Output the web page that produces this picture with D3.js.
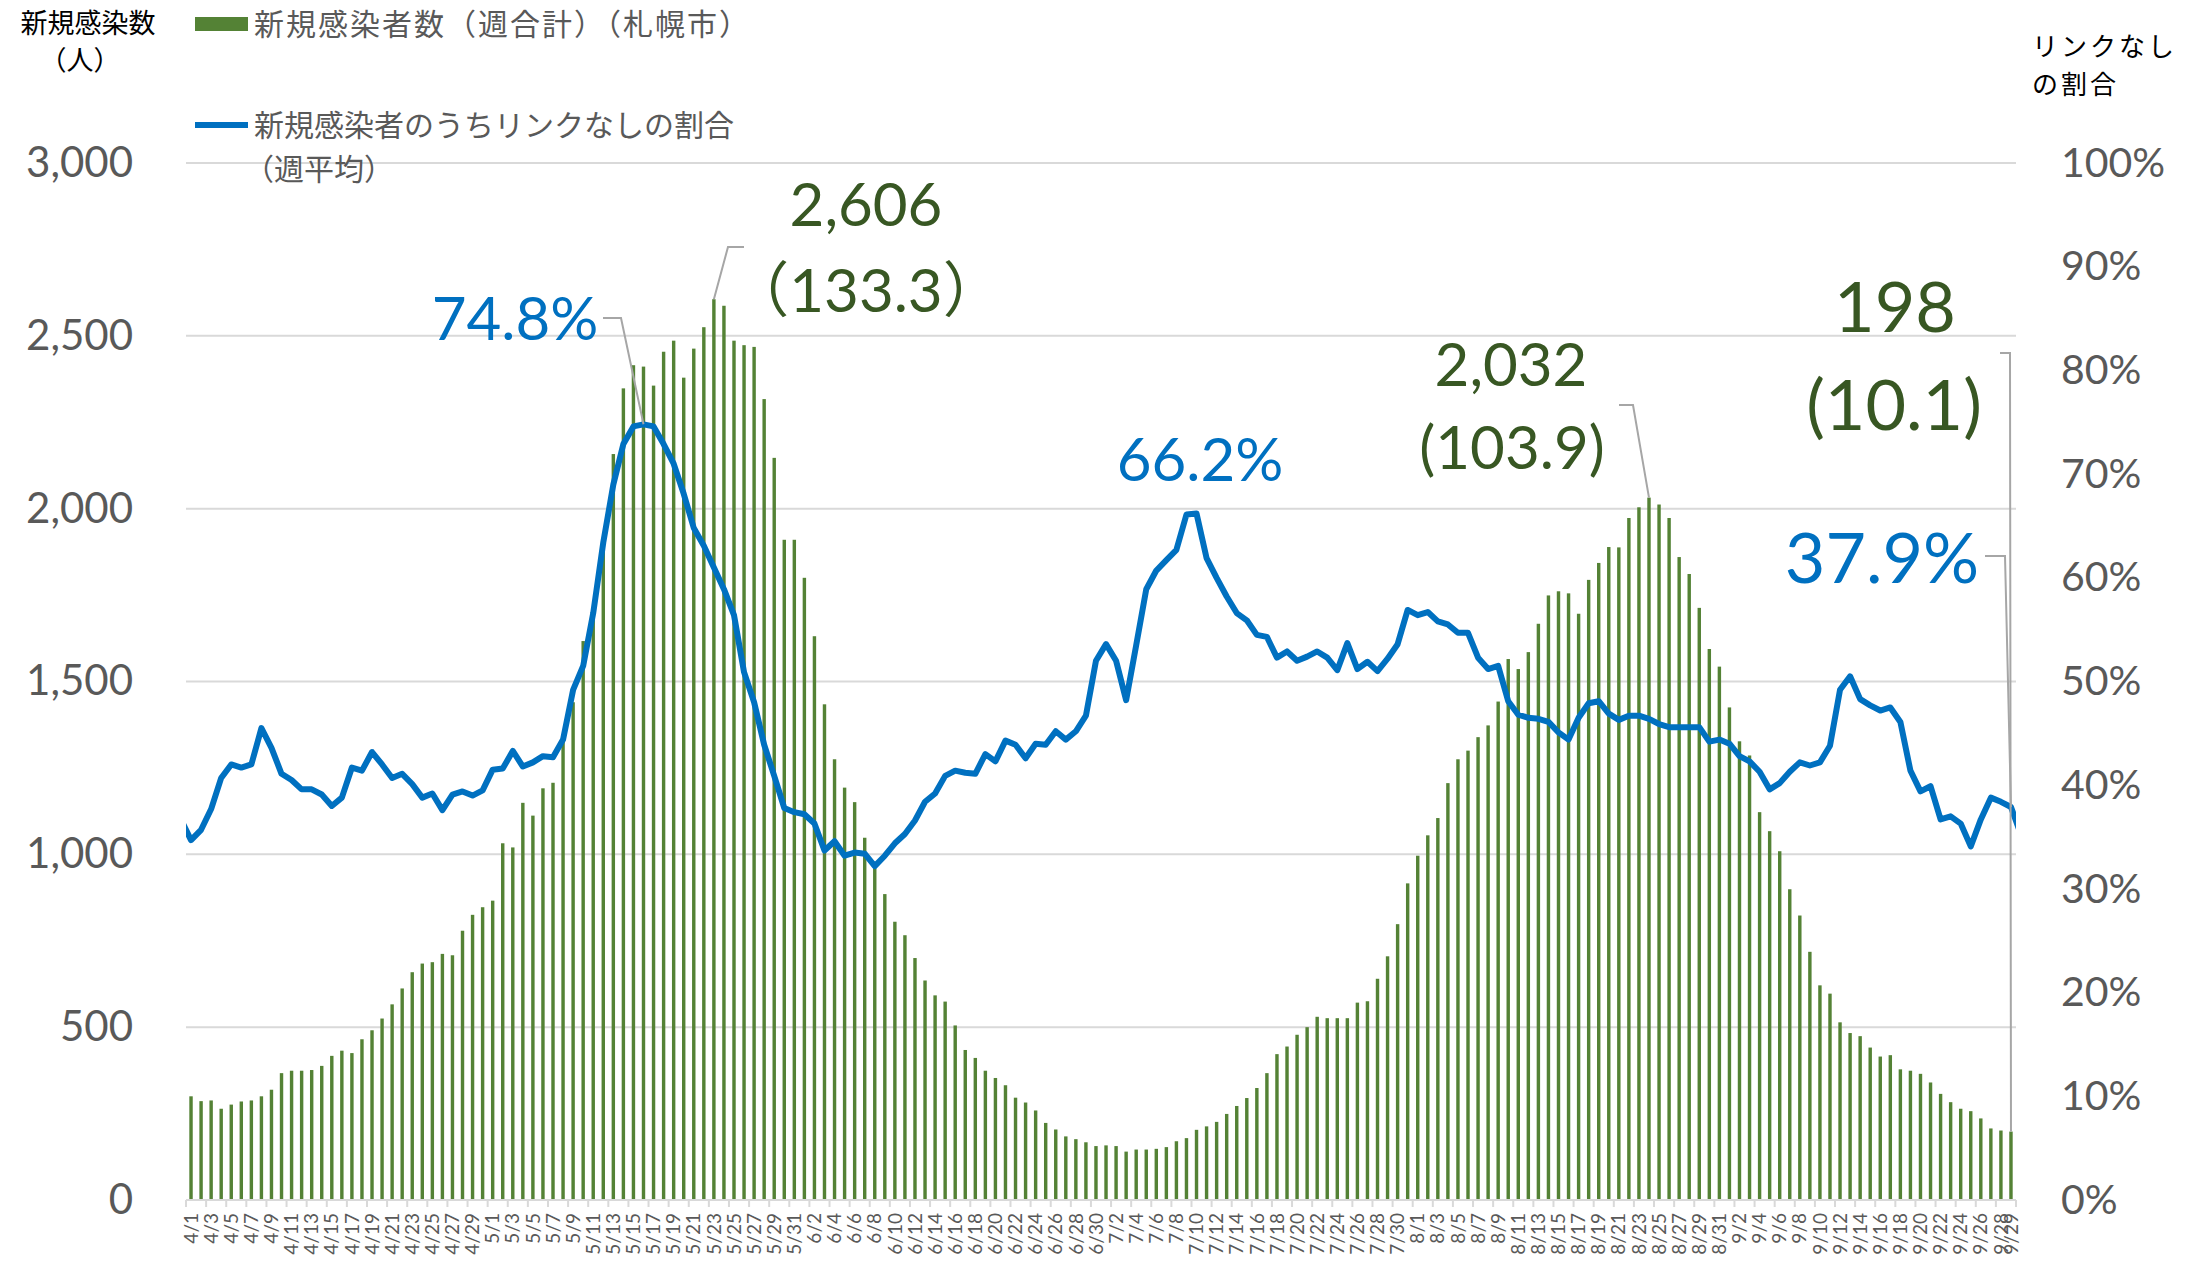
<!DOCTYPE html>
<html>
<head>
<meta charset="utf-8">
<script src="https://cdn.jsdelivr.net/npm/d3@7"></script>
<style>
body{margin:0;background:#fff;}
svg text{font-family:Lato,"Noto Sans CJK JP",sans-serif;}
.jp{font-family:"Noto Sans CJK JP",sans-serif;}
</style>
</head>
<body>
<svg id="chart" width="2188" height="1261"></svg>
<script>
/* 新規感染者数（週合計）, 4/1 - 9/29 */
var weeklyCases = [
    300,286,288,264,276,285,288,300,319,367,374,374,376,388,417,432,425,465,491,525,
    566,612,659,684,688,712,708,779,825,847,866,1032,1020,1149,1112,1191,1207,1340,1440,1617,
    1700,1900,2158,2348,2415,2411,2356,2454,2486,2379,2463,2525,2606,2587,2486,2473,2468,2317,2147,1910,
    1910,1800,1631,1434,1275,1193,1151,1048,960,885,805,766,700,635,592,574,505,434,411,374,
    353,332,296,282,259,223,204,184,176,167,156,158,156,140,146,146,148,153,170,179,
    203,213,226,249,272,295,324,367,422,444,478,500,530,526,526,526,571,575,640,705,
    798,916,996,1055,1105,1206,1275,1300,1339,1373,1442,1565,1536,1585,1667,1749,1761,1755,1696,1794,
    1843,1889,1888,1973,2004,2032,2012,1973,1860,1811,1713,1594,1543,1425,1327,1286,1122,1067,1009,899,
    823,718,621,597,514,483,474,441,415,419,378,374,365,340,307,283,264,257,236,207,
    201,198
];
/* リンクなしの割合（週平均）, % */
var noLinkRate = [
    34.7,35.7,37.7,40.7,42.0,41.7,42.0,45.5,43.6,41.1,40.5,39.6,39.6,39.1,38.0,38.8,41.7,41.4,43.2,42.0,
    40.7,41.1,40.1,38.8,39.2,37.6,39.1,39.4,39.0,39.5,41.5,41.6,43.3,41.8,42.2,42.8,42.7,44.4,49.2,51.5,
    56.6,63.4,69.0,72.9,74.6,74.8,74.6,72.9,71.0,68.1,64.8,63.1,61.0,58.9,56.4,50.9,48.0,43.9,40.9,37.8,
    37.4,37.2,36.3,33.7,34.6,33.2,33.5,33.4,32.2,33.2,34.4,35.3,36.6,38.4,39.2,40.9,41.4,41.2,41.1,43.0,
    42.3,44.3,43.9,42.6,44.0,43.9,45.2,44.4,45.2,46.7,52.0,53.6,52.0,48.2,53.5,58.9,60.7,61.7,62.7,66.1,
    66.2,61.9,60.0,58.2,56.6,55.9,54.5,54.3,52.3,52.9,52.0,52.4,52.9,52.3,51.1,53.7,51.2,51.9,51.0,52.2,
    53.6,56.9,56.4,56.7,55.8,55.5,54.7,54.7,52.3,51.2,51.5,48.1,46.8,46.5,46.4,46.1,45.1,44.4,46.5,47.9,
    48.1,46.9,46.3,46.7,46.7,46.4,45.9,45.6,45.6,45.6,45.6,44.2,44.4,44.0,42.8,42.3,41.3,39.6,40.2,41.3,
    42.2,41.9,42.2,43.8,49.2,50.5,48.3,47.7,47.2,47.5,46.1,41.4,39.4,39.9,36.7,37.0,36.3,34.1,36.7,38.8,
    38.4,37.9
];
// 3/31 and 9/30 values: the line runs on past the plot edges and gets clipped
var noLinkEdge = [36.7, 35.2];

var leftTicks = [0,500,1000,1500,2000,2500,3000];
var rightTicks = [0,10,20,30,40,50,60,70,80,90,100];
var dates = d3.timeDay.range(new Date(2021,3,1), new Date(2021,8,30)).map(d3.timeFormat('%-m/%-d'));

var canvasWidth = 2188, canvasHeight = 1261;
var margin = {t:163,r:172,b:61,l:186};
var plotWidth = canvasWidth - margin.l - margin.r,
    plotHeight = canvasHeight - margin.t - margin.b;

var green = '#548235', darkGreen = '#385723', blue = '#0070C0',
    grid = '#D9D9D9', gray = '#595959', leader = '#A6A6A6';

var svg = d3.select('#chart');
var plot = svg.append('g')
    .attr('transform','translate('+margin.l+','+margin.t+')');

var x = d3.scaleBand().domain(dates).range([0,plotWidth]);
var yL = d3.scaleLinear().domain([0,3000]).range([plotHeight,0]);
var yR = d3.scaleLinear().domain([0,100]).range([plotHeight,0]);
var last = dates.length - 1;
var xi = d3.scaleLinear().domain([0,last])
    .range([x(dates[0]) + x.bandwidth()/2, x(dates[last]) + x.bandwidth()/2]);

//gridlines
plot.selectAll('.grid')
    .data(leftTicks)
    .enter().append('line')
    .attr('class','grid')
    .attr('x1',0).attr('x2',plotWidth)
    .attr('y1',function(d){return yL(d);})
    .attr('y2',function(d){return yL(d);})
    .style('stroke',grid)
    .style('stroke-width','2px');

//left axis
var axisL = plot.append('g')
    .call(d3.axisLeft(yL).tickValues(leftTicks).tickFormat(d3.format(',')).tickSize(0).tickPadding(53));
axisL.select('.domain').remove();
axisL.selectAll('text').style('font-size','42px').style('fill',gray);

//right axis
var axisR = plot.append('g')
    .attr('transform','translate('+plotWidth+',0)')
    .call(d3.axisRight(yR).tickValues(rightTicks).tickFormat(function(d){return d+'%';}).tickSize(0).tickPadding(45));
axisR.select('.domain').remove();
axisR.selectAll('text').style('font-size','41px').style('fill',gray);

//bars
var barW = x.bandwidth()*0.34;
plot.selectAll('.bar')
    .data(weeklyCases)
    .enter().append('rect')
    .attr('class','bar')
    .attr('x',function(d,i){return x(dates[i]) + (x.bandwidth()-barW)/2;})
    .attr('y',function(d){return yL(d);})
    .attr('width',barW)
    .attr('height',function(d){return plotHeight - yL(d);})
    .style('fill',green);

//bottom axis
plot.append('line')
    .attr('x1',0).attr('x2',plotWidth)
    .attr('y1',plotHeight).attr('y2',plotHeight)
    .style('stroke',grid).style('stroke-width','2px');

var bounds = d3.range(0, dates.length+1, 2);
plot.selectAll('.tick-x')
    .data(bounds)
    .enter().append('line')
    .attr('class','tick-x')
    .attr('x1',function(d){return d*x.step();})
    .attr('x2',function(d){return d*x.step();})
    .attr('y1',plotHeight).attr('y2',plotHeight+7)
    .style('stroke',grid).style('stroke-width','2px');

var labelDates = dates.filter(function(d,i){return i%2===0 || i===last;});
var axisB = plot.append('g')
    .attr('transform','translate(0,'+plotHeight+')')
    .call(d3.axisBottom(x).tickValues(labelDates).tickSize(0));
axisB.select('.domain').remove();
axisB.selectAll('text')
    .attr('x',-13).attr('y',0).attr('dy','0.35em')
    .attr('transform','rotate(-90)')
    .style('text-anchor','end')
    .style('font-size','19px')
    .style('fill',gray);

//line
plot.append('clipPath').attr('id','clip')
    .append('rect')
    .attr('x',0).attr('y',-20)
    .attr('width',plotWidth).attr('height',plotHeight+40);

var pts = [[-1,noLinkEdge[0]]]
    .concat(noLinkRate.map(function(d,i){return [i,d];}))
    .concat([[dates.length,noLinkEdge[1]]]);

var line = d3.line()
    .x(function(d){return xi(d[0]);})
    .y(function(d){return yR(d[1]);});

plot.append('path')
    .datum(pts)
    .attr('d',line)
    .attr('clip-path','url(#clip)')
    .style('fill','none')
    .style('stroke',blue)
    .style('stroke-width','6px')
    .style('stroke-linejoin','round');

//annotations (in page coordinates)
var ann = svg.append('g');
function label(txt, cx, y, size, color){
    ann.append('text')
        .attr('x',cx).attr('y',y)
        .style('text-anchor','middle')
        .style('font-size',size+'px')
        .style('fill',color)
        .text(txt);
}
function leaderLine(pts){
    ann.append('path')
        .attr('d',d3.line()(pts))
        .style('fill','none')
        .style('stroke',leader)
        .style('stroke-width','2px');
}
function px(i){return margin.l + xi(i);}
function barTop(i){return margin.t + yL(weeklyCases[i]);}
function lineY(i){return margin.t + yR(noLinkRate[i]);}

var iPeak1 = weeklyCases.indexOf(d3.max(weeklyCases.slice(0,100)));
var iPeak2 = 100 + weeklyCases.slice(100).indexOf(d3.max(weeklyCases.slice(100)));
var iRate1 = noLinkRate.indexOf(d3.max(noLinkRate.slice(0,80)));

label('74.8%', 515, 340, 60, blue);
leaderLine([[603,318],[621,318],[px(iRate1),lineY(iRate1)]]);

label('2,606', 866, 226, 60, darkGreen);
label('（133.3）', 866, 312, 60, darkGreen);
leaderLine([[744,247],[728,247],[px(iPeak1),barTop(iPeak1)]]);

label('66.2%', 1200, 481, 60, blue);

label('2,032', 1511, 386, 60, darkGreen);
label('(103.9)', 1512, 469, 60, darkGreen);
leaderLine([[1619,405],[1633,405],[px(iPeak2),barTop(iPeak2)]]);

label('198', 1895, 332, 70, darkGreen);
label('(10.1)', 1894, 430, 70, darkGreen);
leaderLine([[2000,353],[2010,353],[px(last),barTop(last)]]);

label('37.9%', 1882, 583, 70, blue);
leaderLine([[1985,556],[2005,556],[px(last),lineY(last)]]);

//axis titles
svg.append('text').attr('class','jp')
    .attr('x',88).attr('y',33)
    .style('text-anchor','middle').style('font-size','27px').style('fill','#000')
    .text('新規感染数');
svg.append('text').attr('class','jp')
    .attr('x',80).attr('y',70)
    .style('text-anchor','middle').style('font-size','27px').style('fill','#000')
    .text('（人）');
svg.append('text').attr('class','jp')
    .attr('x',2032).attr('y',56)
    .style('font-size','26px').style('letter-spacing','3px').style('fill','#000')
    .text('リンクなし');
svg.append('text').attr('class','jp')
    .attr('x',2032).attr('y',94)
    .style('font-size','26px').style('letter-spacing','3px').style('fill','#000')
    .text('の割合');

//legend
svg.append('rect')
    .attr('x',195).attr('y',17).attr('width',53).attr('height',14)
    .style('fill',green);
svg.append('text').attr('class','jp')
    .attr('x',254).attr('y',35)
    .style('font-size','30px').style('letter-spacing','2px').style('fill',gray)
    .text('新規感染者数（週合計）（札幌市）');
svg.append('line')
    .attr('x1',195).attr('x2',248).attr('y1',125).attr('y2',125)
    .style('stroke',blue).style('stroke-width','6px');
svg.append('text').attr('class','jp')
    .attr('x',254).attr('y',136)
    .style('font-size','30px').style('fill',gray)
    .text('新規感染者のうちリンクなしの割合');
svg.append('text').attr('class','jp')
    .attr('x',244).attr('y',180)
    .style('font-size','30px').style('fill',gray)
    .text('（週平均）');
</script>
</body>
</html>
